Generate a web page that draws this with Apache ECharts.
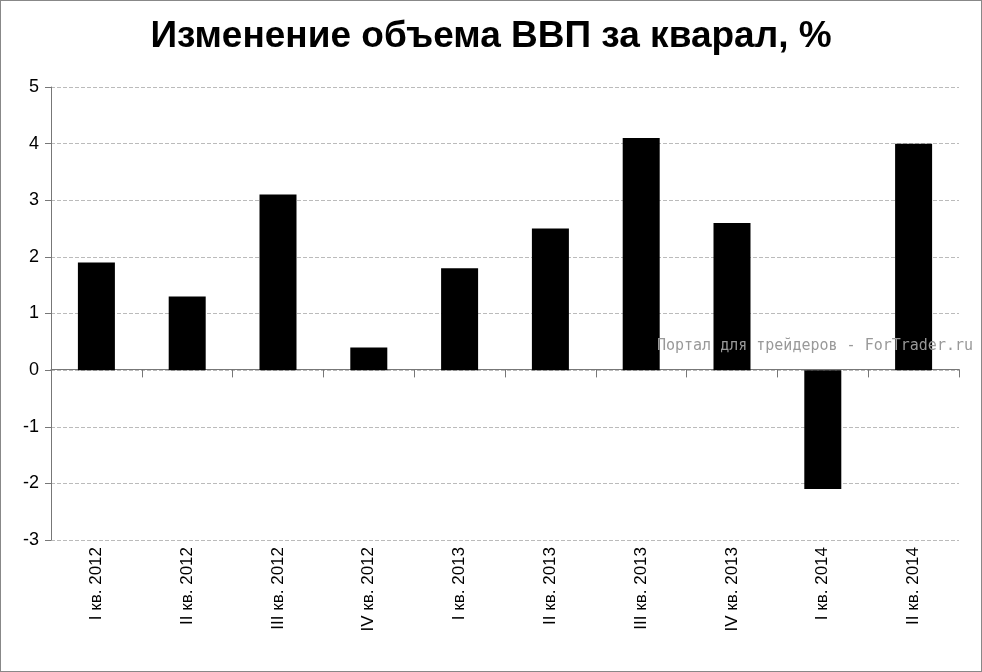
<!DOCTYPE html><html><head><meta charset="utf-8">
<script src="https://cdn.jsdelivr.net/npm/echarts@6/dist/echarts.min.js"></script>
<style>body{margin:0}#c{width:982px;height:672px;box-sizing:border-box;border:1px solid #888}</style></head><body><div id="c"></div>
<script>
const categories=['I кв. 2012','II кв. 2012','III кв. 2012','IV кв. 2012','I кв. 2013','II кв. 2013','III кв. 2013','IV кв. 2013','I кв. 2014','II кв. 2014'];
const values=[1.9,1.3,3.1,0.4,1.8,2.5,4.1,2.6,-2.1,4.0];
const ch=echarts.init(document.getElementById('c'));
ch.setOption({
animation:false,
title:{text:'Изменение объема ВВП за кварал, %',left:'center',top:12,textStyle:{fontFamily:'Liberation Sans',fontSize:37,fontWeight:'bold',color:'#000'}},
grid:{left:50,right:22,top:86,bottom:131,containLabel:false,outerBoundsMode:'none'},
xAxis:[{type:'category',data:categories,axisLine:{show:false,onZero:false},axisTick:{show:false},
 axisLabel:{rotate:90,fontFamily:'Liberation Sans',fontSize:17,color:'#000',margin:7}},
 {type:'category',data:categories,position:'bottom',offset:-170.6,axisLine:{onZero:false,lineStyle:{color:'#777'}},axisTick:{show:true,length:8,lineStyle:{color:'#777'}},axisLabel:{show:false}}],
yAxis:{type:'value',min:-3,max:5,interval:1,axisLine:{show:true,lineStyle:{color:'#777'}},axisTick:{show:true,length:6,lineStyle:{color:'#777'}},
 axisLabel:{fontFamily:'Liberation Sans',fontSize:18,color:'#000',margin:12},
 splitLine:{lineStyle:{type:'dashed',color:'#bbb'}}},
graphic:[{type:'text',right:8,top:338,z:100,style:{text:'Портал для трейдеров - ForTrader.ru',fontFamily:'DejaVu Sans Mono',fontSize:15,fill:'#999'}}],
series:[{type:'bar',data:values,barWidth:37,itemStyle:{color:'#000'}}]
});
</script></body></html>
